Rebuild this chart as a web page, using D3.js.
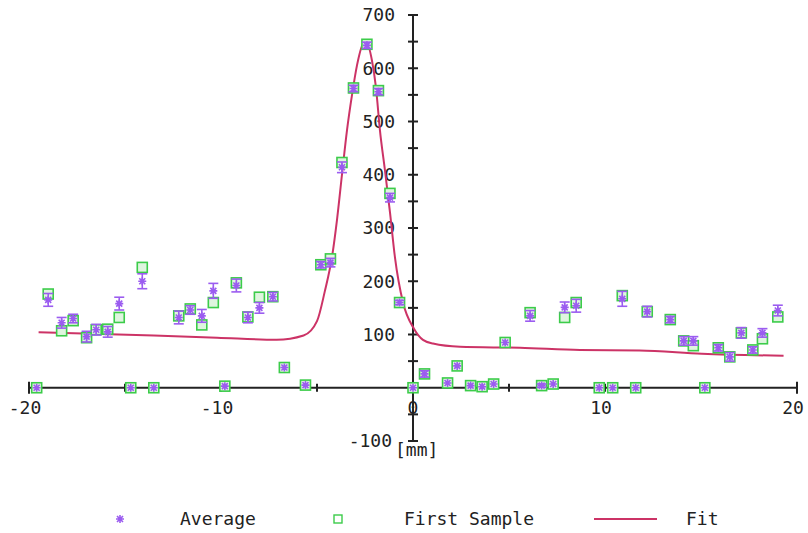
<!DOCTYPE html>
<html>
<head>
<meta charset="utf-8">
<script src="https://cdn.jsdelivr.net/npm/d3@7"></script>
<style>
  body { margin: 0; background: #fff; }
  text { font-family: "DejaVu Sans Mono", monospace; font-size: 18px; fill: #222; }
</style>
</head>
<body>
<svg width="808" height="533"></svg>
<script>
// position of each sample [mm]
var positions = [-19.6, -19.0, -18.3, -17.7, -17.0, -16.5, -15.9, -15.3, -14.7, -14.1,
    -13.5, -12.2, -11.6, -11.0, -10.4, -9.8, -9.2, -8.6, -8.0, -7.3,
    -6.7, -5.6, -4.8, -4.3, -3.7, -3.1, -2.4, -1.8, -1.2, -0.7,
    0.0, 0.6, 1.8, 2.3, 3.0, 3.6, 4.2, 4.8, 6.1, 6.7,
    7.3, 7.9, 8.5, 9.7, 10.4, 10.9, 11.6, 12.2, 13.4, 14.1,
    14.6, 15.2, 15.9, 16.5, 17.1, 17.7, 18.2, 19.0];

var averageValues = [0, 165, 122, 130, 96, 109, 105, 158, 0, 200,
    0, 132, 146, 135, 182, 3, 192, 132, 150, 171,
    38, 5, 231, 235, 414, 562, 643, 556, 357, 160,
    0, 26, 9, 41, 4, 2, 7, 85, 135, 4,
    7, 151, 154, 0, 0, 167, 0, 143, 128, 88,
    88, 0, 75, 58, 103, 71, 103, 145];

var averageErrors = [0, 12, 10, 8, 10, 10, 10, 12, 0, 14,
    0, 12, 8, 12, 14, 0, 12, 10, 10, 8,
    0, 0, 6, 8, 10, 6, 6, 6, 8, 4,
    0, 6, 0, 0, 0, 0, 0, 0, 10, 3,
    0, 10, 12, 0, 0, 14, 0, 10, 6, 8,
    8, 0, 6, 8, 10, 6, 8, 10];

var firstSampleValues = [0, 176, 107, 126, 94, 109, 110, 132, 0, 226,
    0, 135, 148, 118, 160, 3, 197, 133, 170, 171,
    38, 5, 231, 242, 423, 563, 645, 558, 365, 160,
    0, 26, 9, 41, 4, 2, 7, 85, 141, 4,
    7, 132, 160, 0, 0, 173, 0, 143, 128, 88,
    79, 0, 75, 58, 103, 71, 92, 133];

// fit curve
var fitX = [-19.5, -13.5, -10.2, -7.1, -5.7, -5.0, -4.6, -4.2, -3.96, -3.7,
    -3.44, -3.18, -2.92, -2.6, -2.4, -2.14, -1.93, -1.72, -1.46, -1.2,
    -0.94, -0.52, 0.05, 0.52, 1.04, 2.45, 5.57, 8.7, 11.8, 15.05, 19.3];
var fitY = [104, 98, 94, 90, 98, 125, 180, 250, 315, 400,
    483, 549, 605, 645, 647, 615, 564, 483, 408, 330,
    245, 160, 111, 90, 83, 77, 75, 71, 70, 64, 60];

var xTicks = [-20, -15, -10, -5, 0, 5, 10, 15, 20];
var xLabels = [-20, -10, 0, 10, 20];
var yTicks = d3.range(-100, 701, 50);
var yLabels = [-100, 100, 200, 300, 400, 500, 600, 700];

var colors = {avg: '#9b5cf0', first: '#3ccc4a', fit: '#cc3366', axis: '#222'};

var svg = d3.select('svg');

var xScale = d3.scaleLinear().domain([-20, 20]).range([29, 797]);
var yScale = d3.scaleLinear().domain([-100, 700]).range([441, 15]);

var x0 = xScale(0), y0 = yScale(0);

// axes through the origin
var axisG = svg.append('g').attr('stroke', colors.axis).attr('stroke-width', 2);

axisG.append('line')
    .attr('x1', xScale(-20)).attr('x2', xScale(20))
    .attr('y1', y0).attr('y2', y0);

axisG.selectAll('.xtick')
    .data(xTicks)
    .enter().append('line')
    .attr('class', 'xtick')
    .attr('x1', d => xScale(d)).attr('x2', d => xScale(d))
    .attr('y1', d => y0 - (Math.abs(d) == 20 ? 6 : 4))
    .attr('y2', d => y0 + (Math.abs(d) == 20 ? 6 : 4));

axisG.append('line')
    .attr('x1', x0).attr('x2', x0)
    .attr('y1', yScale(-100)).attr('y2', yScale(700));

axisG.selectAll('.ytick')
    .data(yTicks)
    .enter().append('line')
    .attr('class', 'ytick')
    .attr('x1', x0 - 5).attr('x2', x0 + 5)
    .attr('y1', d => yScale(d)).attr('y2', d => yScale(d));

svg.selectAll('.xlabel')
    .data(xLabels)
    .enter().append('text')
    .attr('class', 'xlabel')
    .attr('x', d => xScale(d) + (d == 0 ? 0 : -4))
    .attr('y', y0 + 26)
    .attr('text-anchor', 'middle')
    .text(d => d < 0 ? '-' + Math.abs(d) : d);

svg.selectAll('.ylabel')
    .data(yLabels)
    .enter().append('text')
    .attr('class', 'ylabel')
    .attr('x', d => x0 - (d < 0 ? 21 : 18))
    .attr('y', d => yScale(d))
    .attr('dy', '0.35em')
    .attr('text-anchor', 'end')
    .text(d => d < 0 ? '-' + Math.abs(d) : d);

// x unit label sits just under the bottom of the y axis
svg.append('text')
    .attr('x', x0 - 18)
    .attr('y', yScale(-100) + 15)
    .attr('text-anchor', 'start')
    .text('[mm]');

// fit line
var fitLine = d3.line()
    .x(d => xScale(d[0]))
    .y(d => yScale(d[1]))
    .curve(d3.curveMonotoneX);

svg.append('path')
    .datum(fitX.map((x, i) => [x, fitY[i]]))
    .attr('d', fitLine)
    .attr('fill', 'none')
    .attr('stroke', colors.fit)
    .attr('stroke-width', 2);

// first sample squares
svg.selectAll('.first')
    .data(positions)
    .enter().append('rect')
    .attr('class', 'first')
    .attr('x', d => xScale(d) - 5)
    .attr('y', (d, i) => yScale(firstSampleValues[i]) - 5)
    .attr('width', 10).attr('height', 10)
    .attr('fill', '#dff5df')
    .attr('stroke', colors.first)
    .attr('stroke-width', 1.6);

// average with error bars
var avgG = svg.selectAll('.avg')
    .data(positions)
    .enter().append('g')
    .attr('class', 'avg')
    .attr('stroke', colors.avg)
    .attr('stroke-width', 1.6)
    .attr('transform', (d, i) => 'translate(' + [xScale(d), yScale(averageValues[i])] + ')');

avgG.each(function(d, i) {
    var g = d3.select(this);
    var e = yScale(0) - yScale(averageErrors[i]);
    if (e > 1) {
        g.append('line').attr('x1', 0).attr('x2', 0).attr('y1', -e).attr('y2', e);
        g.append('line').attr('x1', -5).attr('x2', 5).attr('y1', -e).attr('y2', -e);
        g.append('line').attr('x1', -5).attr('x2', 5).attr('y1', e).attr('y2', e);
    }
    g.append('path').attr('d', 'M-4,0H4M0,-4V4M-3,-3L3,3M-3,3L3,-3');
});

// legend
var legendY = 519;
svg.append('path')
    .attr('transform', 'translate(120,' + legendY + ')')
    .attr('d', 'M-4,0H4M0,-4V4M-3,-3L3,3M-3,3L3,-3')
    .attr('stroke', colors.avg).attr('stroke-width', 1.6);
svg.append('text').attr('x', 180).attr('y', legendY).attr('dy', '0.35em').text('Average');

svg.append('rect')
    .attr('x', 334).attr('y', legendY - 4).attr('width', 8).attr('height', 8)
    .attr('fill', 'none').attr('stroke', colors.first).attr('stroke-width', 1.4);
svg.append('text').attr('x', 404).attr('y', legendY).attr('dy', '0.35em').text('First Sample');

svg.append('line')
    .attr('x1', 594).attr('x2', 657).attr('y1', legendY).attr('y2', legendY)
    .attr('stroke', colors.fit).attr('stroke-width', 2);
svg.append('text').attr('x', 686).attr('y', legendY).attr('dy', '0.35em').text('Fit');
</script>
</body>
</html>
